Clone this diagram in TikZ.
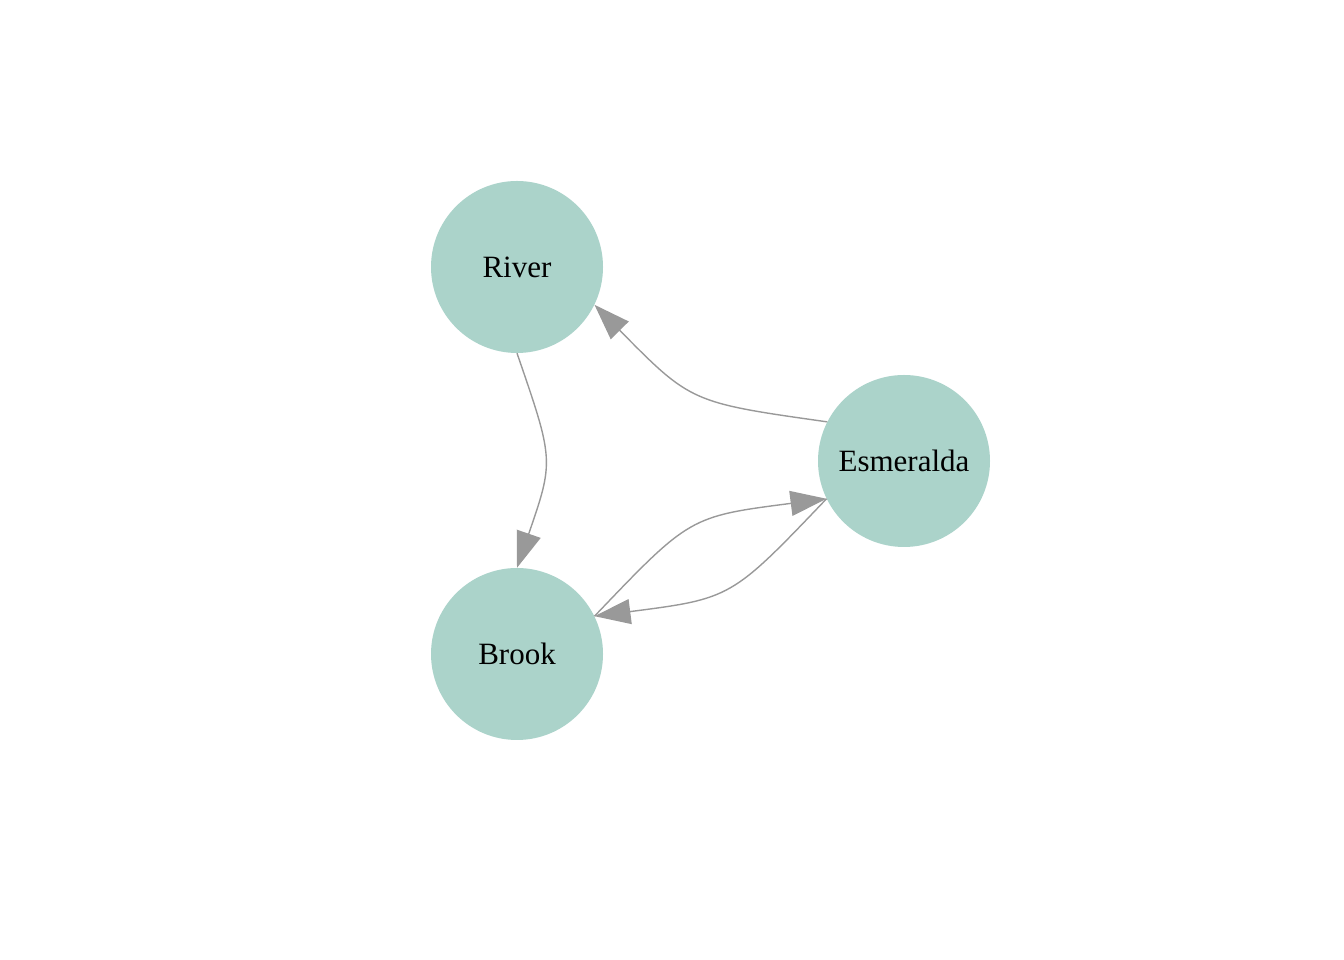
\documentclass[tikz,border=0pt]{standalone}
\usepackage{fontspec}
\setmainfont{Liberation Serif}
\usetikzlibrary{arrows.meta,calc}
\definecolor{nodefill}{RGB}{171,211,202}
\definecolor{edgegray}{RGB}{153,153,153}
\begin{document}
\begin{tikzpicture}[x=1pt,y=1pt,
  vert/.style={circle,fill=nodefill,draw=none,minimum size=172pt,inner sep=0pt,
    font=\fontsize{31}{36}\selectfont},
  edge/.style={draw=edgegray,line width=1.4pt,
    -{Triangle[length=36pt,width=25pt,fill=edgegray]}}]
\useasboundingbox (0,0) rectangle (1344,960);
\node[vert] (river) at (517,693) {River};
\node[vert] (brook) at (517,306) {Brook};
\node[vert] (esm) at (904,499) {Esmeralda};
% River -> Brook
\coordinate (a1) at (river.-90);
\coordinate (b1) at (brook.90);
\draw[edge] (a1) .. controls ($(a1)!0.5!(b1)!37pt!90:(b1)$) and ($(a1)!0.5!(b1)!37pt!90:(b1)$) .. (b1);
% Esmeralda -> River
\coordinate (a2) at (esm.153.4);
\coordinate (b2) at (river.-26.6);
\draw[edge] (a2) .. controls ($(a2)!0.5!(b2)!44pt!90:(b2)$) and ($(a2)!0.5!(b2)!44pt!90:(b2)$) .. (b2);
% Brook -> Esmeralda
\coordinate (a3) at (brook.26.5);
\coordinate (b3) at (esm.206.5);
\draw[edge] (a3) .. controls ($(a3)!0.5!(b3)!46pt!90:(b3)$) and ($(a3)!0.5!(b3)!46pt!90:(b3)$) .. (b3);
% Esmeralda -> Brook
\draw[edge] (b3) .. controls ($(b3)!0.5!(a3)!46pt!90:(a3)$) and ($(b3)!0.5!(a3)!46pt!90:(a3)$) .. (a3);
\end{tikzpicture}
\end{document}
